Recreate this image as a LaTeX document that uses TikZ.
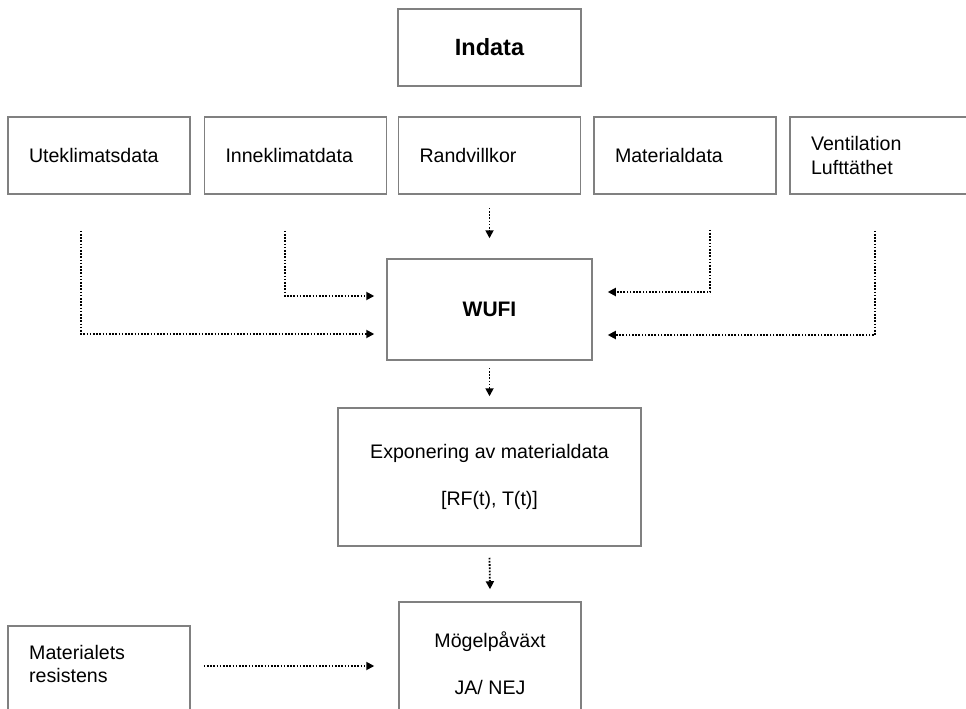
\documentclass[tikz,border=0pt]{standalone}
\usepackage{fontspec}
\setmainfont{Liberation Sans}
\usetikzlibrary{arrows.meta,calc}
\definecolor{boxgray}{RGB}{128,128,128}
\begin{document}
\begin{tikzpicture}[x=1pt,y=-1pt,
  every node/.style={font=\fontsize{19.6}{23.5}\selectfont},
  box/.style={draw=boxgray, line width=1.5pt, rectangle, inner sep=0pt, minimum height=77pt},
  lbox/.style={box, minimum width=182pt, text width=140pt, inner xsep=21pt, align=left},
  txt/.style={inner sep=0pt, align=left},
  conn/.style={line width=1.8pt, dash pattern=on 1.7pt off 1.5pt, -{Triangle[length=8pt,width=8pt]}}]
\useasboundingbox (0,0) rectangle (966,709);
\fill[white] (0,0) rectangle (966,709);
\clip (0,0) rectangle (966,709);

\node[box, minimum width=183pt, font=\bfseries\fontsize{23.5}{28}\selectfont] (indata) at (489.5,47.5) {Indata};

\node[lbox] (ute)  at (99,155.5)    {Uteklimatsdata};
\node[lbox] (inne) at (295.5,155.5) {Inneklimatdata};
\node[lbox] (rand) at (489.5,155.5) {Randvillkor};
\node[lbox] (mat)  at (685,155.5)   {Materialdata};
\node[lbox] (vent) at (881,155.5)   {Ventilation\\Lufttäthet};

\node[box, minimum width=205pt, minimum height=101pt, font=\bfseries\fontsize{21}{25}\selectfont] (wufi) at (489.5,309.5) {WUFI};

\node[box, minimum width=303pt, minimum height=138pt, align=center] (expo) at (489.5,477)
  {Exponering av materialdata\\[23.5pt]{[RF(t), T(t)]}};

\node[box, minimum width=182pt, minimum height=123pt, align=center] (mogel) at (490,663.5)
  {Mögelpåväxt\\[23.5pt]JA/ NEJ};

\node[box, minimum width=182pt, minimum height=130pt, anchor=north] (mres) at (99,625) {};
\node[txt, anchor=west] (mrest) at (29,664) {Materialets\\resistens};

% connectors
\draw[conn] ([yshift=-13pt]rand.south) -- ([yshift=20pt]wufi.north);
\draw[conn] ([xshift=-18pt,yshift=-36pt]ute.south) |- ([xshift=-12pt,yshift=-24.5pt]wufi.west);
\draw[conn] ([xshift=-10.5pt,yshift=-36pt]inne.south) |- ([xshift=-12pt,yshift=13.5pt]wufi.west);
\draw[conn] ([xshift=25pt,yshift=-35pt]mat.south) |- ([xshift=15pt,yshift=17.5pt]wufi.east);
\draw[conn] ([xshift=-6pt,yshift=-36pt]vent.south) |- ([xshift=15pt,yshift=-25.5pt]wufi.east);
\draw[conn] ([yshift=-7pt]wufi.south) -- ([yshift=11pt]expo.north);
\draw[conn] ([yshift=-11pt]expo.south) -- ([yshift=12pt]mogel.north);
\draw[conn] ($(mres.east |- mrest.center)+(13,2)$) -- ($(mogel.west |- mrest.center)+(-24,2)$);
\end{tikzpicture}
\end{document}
